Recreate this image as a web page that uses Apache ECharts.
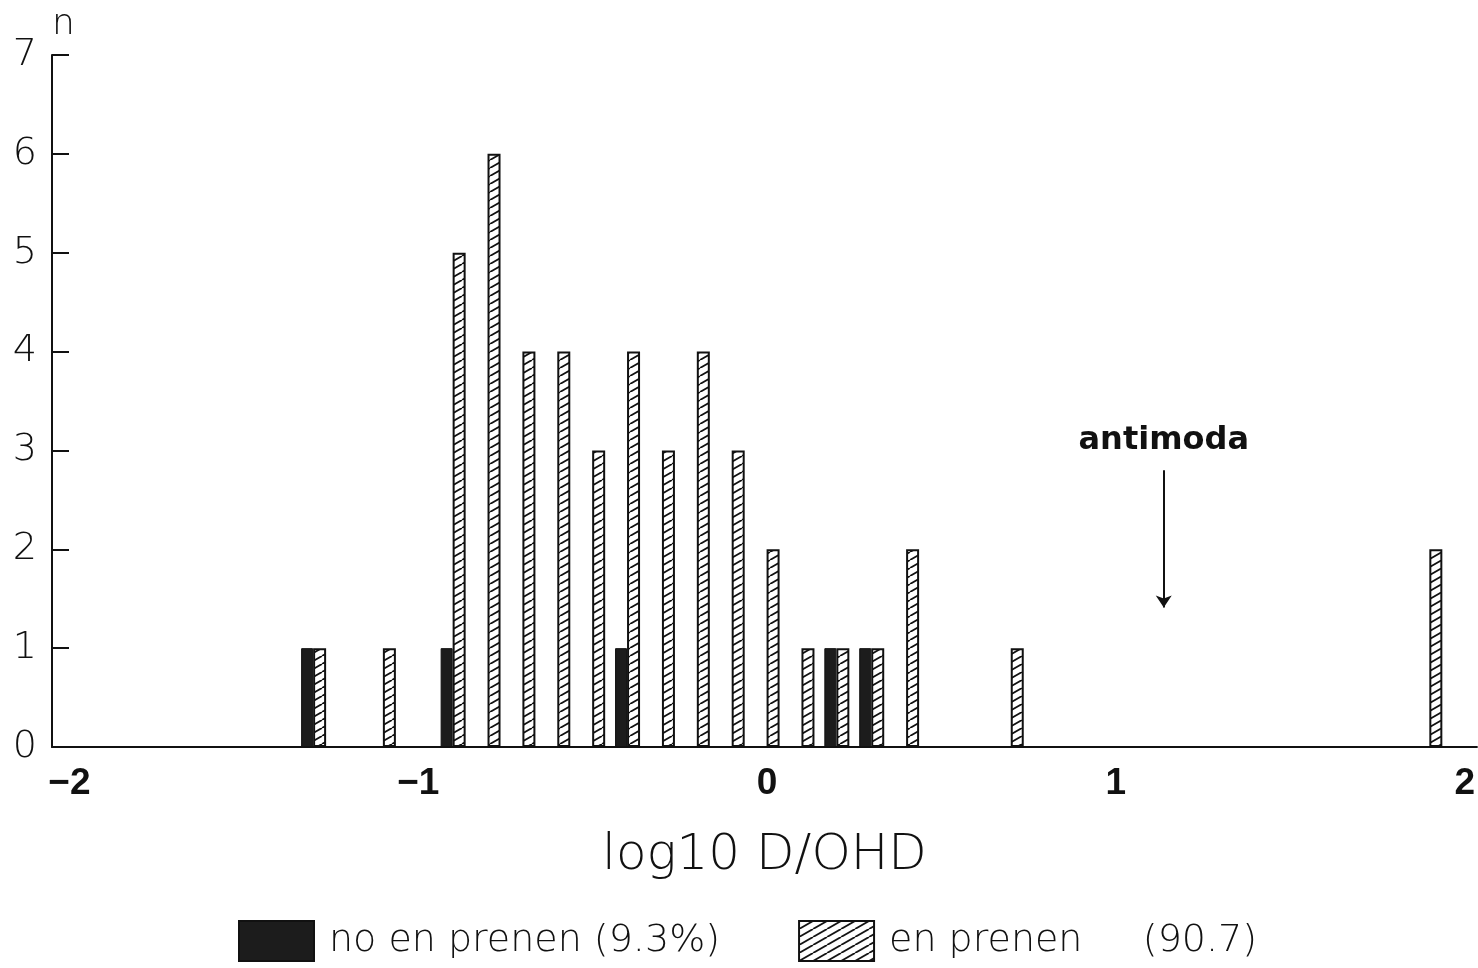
<!DOCTYPE html>
<html>
<head>
<meta charset="utf-8">
<title>log10 D/OHD</title>
<script src="https://cdn.jsdelivr.net/npm/echarts@6/dist/echarts.min.js"></script>
<style>
  html, body { margin: 0; padding: 0; background: #fff; }
  #chart { width: 1478px; height: 968px; }
</style>
</head>
<body>
<div id="chart"></div>
<script>
// Bin centres (log10 D/OHD, bins of 0.1) and counts per group
const hatchedBins   = [-1.3, -1.1, -0.9, -0.8, -0.7, -0.6, -0.5, -0.4, -0.3, -0.2, -0.1, 0.0, 0.1, 0.2, 0.3, 0.4, 0.7, 1.9];
const hatchedCounts = [1, 1, 5, 6, 4, 4, 3, 4, 3, 4, 3, 2, 1, 1, 1, 2, 1, 2];
const solidBins     = [-1.3, -0.9, -0.4, 0.2, 0.3];
const solidCounts   = [1, 1, 1, 1, 1];

const seriesNames   = ['no en prenen', 'en prenen'];
const legendSuffix  = ['(9.3%)', '    (90.7)'];
const xTicks        = [-2, -1, 0, 1, 2];
const antimodaX     = 1.12;
const antimodaY     = [2.8, 1.41];

// Diagonal hatch tile used to fill the "en prenen" bars
function hatchTile() {
  const c = document.createElement('canvas');
  c.width = 14; c.height = 8;
  const g = c.getContext('2d');
  g.fillStyle = '#fff';
  g.fillRect(0, 0, 14, 8);
  g.strokeStyle = '#111';
  g.lineWidth = 1.8;
  g.beginPath();
  g.moveTo(-14, 8); g.lineTo(0, 0);
  g.moveTo(0, 8);   g.lineTo(14, 0);
  g.moveTo(14, 8);  g.lineTo(28, 0);
  g.stroke();
  return c;
}

const solidData   = solidBins.map((x, i) => [x, solidCounts[i]]);
const hatchedData = hatchedBins.map((x, i) => [x, hatchedCounts[i]]);

const chart = echarts.init(document.getElementById('chart'), null, { renderer: 'canvas' });
const lightFont = '"DejaVu Sans", sans-serif';
const boldFont  = '"Liberation Sans", Arial, sans-serif';

chart.setOption({
  animation: false,
  backgroundColor: '#fff',
  grid: { left: 52, right: 0, top: 55, bottom: 221, containLabel: false },
  legend: {
    left: 233,
    top: 915,
    icon: 'rect',
    itemWidth: 75,
    itemHeight: 40,
    itemGap: 78,
    data: seriesNames,
    formatter: name => name + ' ' + legendSuffix[seriesNames.indexOf(name)],
    textStyle: { fontFamily: lightFont, fontWeight: 200, fontSize: 38, color: '#111', padding: [0, 0, 0, 10] }
  },
  xAxis: {
    type: 'value',
    min: -2.05,
    max: 2.035,
    name: 'log10 D/OHD',
    nameLocation: 'middle',
    nameGap: 84,
    nameTextStyle: { fontFamily: lightFont, fontWeight: 200, fontSize: 50, color: '#111' },
    splitLine: { show: false },
    axisLine: { show: true, onZero: false, lineStyle: { color: '#111', width: 2 } },
    axisTick: { show: false },
    axisLabel: {
      customValues: xTicks,
      margin: 18,
      fontFamily: boldFont,
      fontWeight: 'bold',
      fontSize: 37,
      color: '#111',
      formatter: v => (v < 0 ? '\u2212' + Math.abs(v) : String(v))
    }
  },
  yAxis: {
    type: 'value',
    min: 0,
    max: 7,
    interval: 1,
    name: 'n',
    nameLocation: 'end',
    nameGap: 12,
    nameTextStyle: { fontFamily: lightFont, fontWeight: 200, fontSize: 36, color: '#111', align: 'left' },
    splitLine: { show: false },
    axisLine: { show: true, onZero: false, lineStyle: { color: '#111', width: 2 } },
    axisTick: { show: true, inside: true, length: 17, lineStyle: { color: '#111', width: 2 } },
    axisLabel: { margin: 15, fontFamily: lightFont, fontWeight: 200, fontSize: 38, color: '#111' }
  },
  series: [
    {
      name: seriesNames[0],
      type: 'bar',
      barWidth: 12,
      barGap: '0%',
      data: solidData,
      itemStyle: { color: '#1c1c1c', borderColor: '#111', borderWidth: 1 }
    },
    {
      name: seriesNames[1],
      type: 'bar',
      barWidth: 13,
      barGap: '0%',
      data: hatchedData,
      itemStyle: {
        color: { image: hatchTile(), repeat: 'repeat' },
        borderColor: '#111',
        borderWidth: 2
      },
      markLine: {
        silent: true,
        symbol: ['none', 'arrow'],
        symbolSize: 12,
        lineStyle: { color: '#111', width: 2, type: 'solid' },
        label: {
          show: true,
          position: 'start',
          distance: 14,
          formatter: 'antimoda',
          fontFamily: '"DejaVu Sans", sans-serif',
          fontWeight: 'bold',
          fontSize: 32,
          color: '#111'
        },
        data: [[
          { coord: [antimodaX, antimodaY[0]] },
          { coord: [antimodaX, antimodaY[1]] }
        ]]
      }
    }
  ]
});
</script>
</body>
</html>
